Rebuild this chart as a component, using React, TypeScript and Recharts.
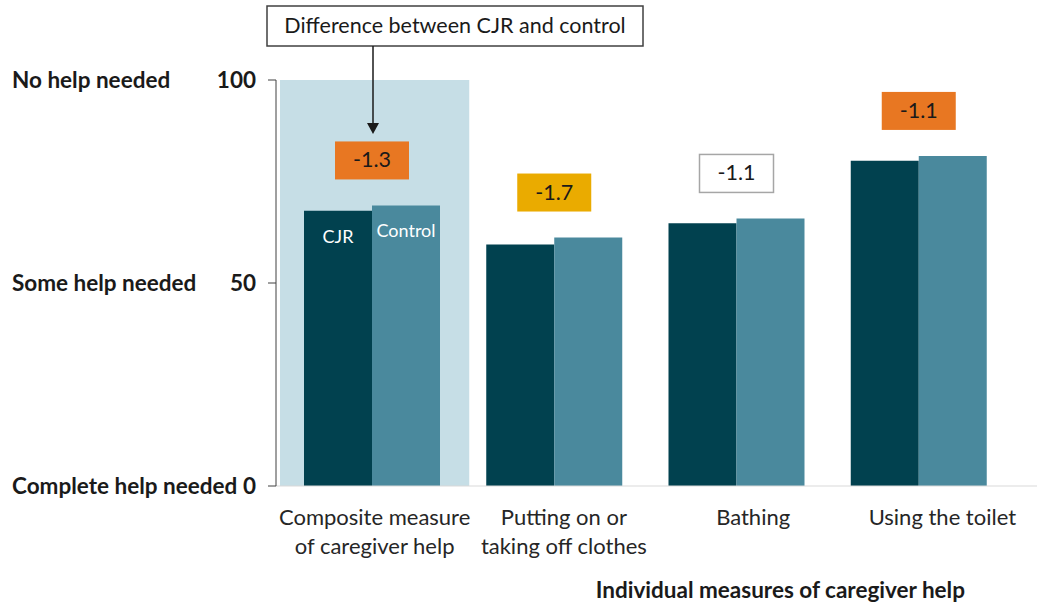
// Caregiver help chart -- grouped bars, recharts.

import { Bar, BarChart, LabelList, ReferenceArea, XAxis, YAxis } from "recharts";

const categories = [
	["Composite measure", "of caregiver help"],
	["Putting on or", "taking off clothes"],
	["Bathing"],
	["Using the toilet"],
];
const cjr = [67.8, 59.5, 64.7, 80.1];
const control = [69.1, 61.2, 65.9, 81.3];
const differences = ["-1.3", "-1.7", "-1.1", "-1.1"];
const yTicks = [0, 50, 100];
const yTickNames = ["Complete help needed", "Some help needed", "No help needed"];

const data = categories.map((lines, i) => ({
	name: lines.join(" "),
	cjr: cjr[i],
	control: control[i],
	diff: differences[i],
}));

const FONT = "Lato, 'Open Sans', sans-serif";
const TEXT = 21.5;
const BOLD = 22.5;
const CJR_COLOR = "#01414F";
const CONTROL_COLOR = "#4A899D";
const HIGHLIGHT = "#C6DEE6";
const BOX_FILLS = ["#E87722", "#EAAB00", "#FFFFFF", "#E87722"];
const BOX_STROKES = ["none", "none", "#A6A6A6", "none"];

function YTick(props: any) {
	const { x, y, payload } = props;
	const i = yTicks.indexOf(payload.value);
	return (
		<g fontFamily={FONT} fontWeight={700} fontSize={BOLD} fill="#1A1A1A">
			<text x={12} y={y} dy={8} textAnchor="start" fill="#1A1A1A">
				{yTickNames[i]}
			</text>
			<text x={x} y={y} dy={8} textAnchor="end" fill="#1A1A1A">
				{payload.value}
			</text>
		</g>
	);
}

function XTick(props: any) {
	const { x, y, index } = props;
	const lines = categories[index] ?? [];
	return (
		<text x={x} y={y} textAnchor="middle" fontFamily={FONT} fontSize={22} fill="#262626">
			{lines.map((l, k) => (
				<tspan key={k} x={x} dy={k === 0 ? 31 : 29}>
					{l}
				</tspan>
			))}
		</text>
	);
}

function DiffBox(props: any) {
	const { x, y, index, value } = props;
	const w = 74;
	const h = 38;
	const bottom = y - 26;
	return (
		<g>
			<rect
				x={x - w / 2}
				y={bottom - h}
				width={w}
				height={h}
				fill={BOX_FILLS[index]}
				stroke={BOX_STROKES[index]}
				strokeWidth={1.5}
			/>
			<text x={x} y={bottom - h / 2 + 7} textAnchor="middle" fontFamily={FONT} fontSize={TEXT} fill="#1A1A1A">
				{value}
			</text>
		</g>
	);
}

const seriesLabel = (text: string) => (props: any) => {
	const { x, y, width, index } = props;
	if (index !== 0) return null;
	return (
		<text x={x + width / 2} y={y + 32} textAnchor="middle" fontFamily={FONT} fontSize={18} fill="#FFFFFF">
			{text}
		</text>
	);
};

export default function App() {
	return (
		<div style={{ position: "absolute", left: 0, top: 0, width: 1037, height: 606, background: "#fff" }}>
			<BarChart
				width={1037}
				height={606}
				data={data}
				margin={{ top: 80, right: 0, bottom: 0, left: 0 }}
				barGap={0}
				barCategoryGap={23}
			>
				<ReferenceArea
					xAxisId="labels"
					x1={data[0].name}
					x2={data[0].name}
					y1={0}
					y2={100}
					fill={HIGHLIGHT}
					fillOpacity={1}
					stroke="none"
					ifOverflow="visible"
				/>
				{/* labels and highlight sit on a slightly wider band than the bars */}
				<XAxis xAxisId="bars" dataKey="name" hide height={0} padding={{ left: 5, right: 27 }} />
				<XAxis
					xAxisId="labels"
					dataKey="name"
					height={120}
					padding={{ left: 4, right: 0 }}
					axisLine={{ stroke: "#D9D9D9" }}
					tickLine={false}
					tick={<XTick />}
					interval={0}
				/>
				<YAxis
					width={276}
					domain={[0, 100]}
					ticks={yTicks}
					tickSize={8}
					tickMargin={12}
					axisLine={{ stroke: "#404040" }}
					tickLine={{ stroke: "#404040" }}
					tick={<YTick />}
				/>
				<Bar xAxisId="bars" dataKey="cjr" name="CJR" fill={CJR_COLOR} barSize={68} isAnimationActive={false}>
					<LabelList dataKey="cjr" content={seriesLabel("CJR")} />
				</Bar>
				<Bar xAxisId="bars" dataKey="control" name="Control" fill={CONTROL_COLOR} barSize={68} isAnimationActive={false}>
					<LabelList dataKey="control" content={seriesLabel("Control")} />
					<LabelList dataKey="diff" content={<DiffBox />} />
				</Bar>
			</BarChart>
			<svg width={1037} height={606} style={{ position: "absolute", left: 0, top: 0, pointerEvents: "none" }}>
				<rect x={267} y={6} width={376} height={40} fill="#FFFFFF" stroke="#404040" strokeWidth={1.5} />
				<text x={455} y={33} textAnchor="middle" fontFamily={FONT} fontSize={TEXT} fill="#1A1A1A">
					Difference between CJR and control
				</text>
				<line x1={373} y1={46} x2={373} y2={124} stroke="#1A1A1A" strokeWidth={1.5} />
				<polygon points="367,123 379,123 373,134" fill="#1A1A1A" />
				<text x={965} y={598} textAnchor="end" fontFamily={FONT} fontWeight={700} fontSize={BOLD} fill="#1A1A1A">
					Individual measures of caregiver help
				</text>
			</svg>
		</div>
	);
}
